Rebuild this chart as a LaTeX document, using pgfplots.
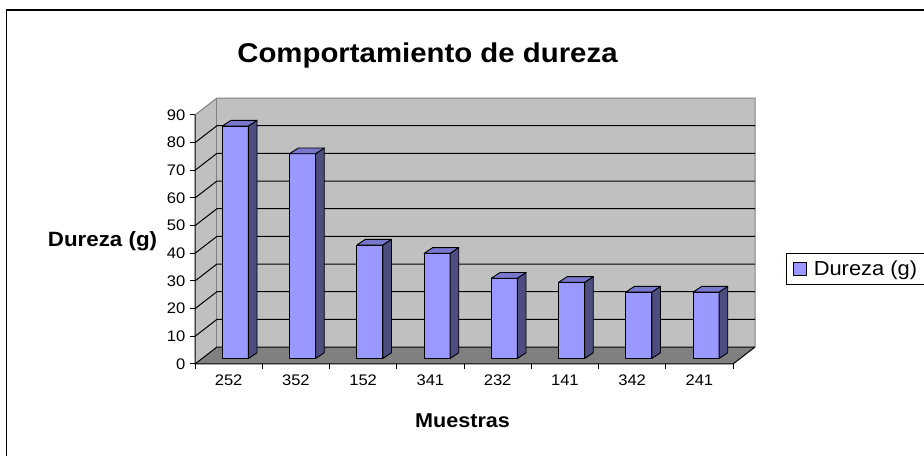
\documentclass[border=0pt]{standalone}
\usepackage{pgfplots}
\pgfplotsset{compat=1.18}
\usepackage{pgfplotstable}
\usepackage{fontspec}
\setmainfont{Liberation Sans}[FakeStretch=1.08]

\definecolor{wallgray}{HTML}{C0C0C0}
\definecolor{floorgray}{HTML}{808080}
\definecolor{barfront}{HTML}{9999FF}
\definecolor{bartop}{HTML}{7777CC}
\definecolor{barside}{HTML}{4D4D80}

\pgfplotstableread{
muestra dureza
252 84
352 74
152 41
341 38
232 29
141 27.5
342 24
241 24
}\datos

% column geometry (pt), vertical unit and the lift of the columns off the front edge
\def\colhw{9.75pt}
\def\colw{19.5pt}
\def\coldx{6.5pt}
\def\coldy{4.3pt}
\def\yunit{2.075pt}
\def\collift{4.15pt}

% the column is drawn entirely by the scatter marker code
\pgfdeclareplotmark{column3d}{}

\begin{document}
\begin{tikzpicture}
\useasboundingbox (0,0) rectangle (693pt,342pt);
\draw[line width=1pt] (4.9pt,0) -- (4.9pt,334.5pt) -- (693pt,334.5pt);
\begin{axis}[
  at={(146.25pt,69pt)}, anchor=south west,
  x=50.4375pt, y=\yunit,
  xmin=-0.5, xmax=7.827, ymin=0, ymax=96.14,
  clip=false,
  axis line style={draw=none},
  tick align=outside, tick pos=left,
  major tick length=3.75pt, minor tick length=3.75pt,
  xtick={0,...,7},
  xticklabels={252,352,152,341,232,141,342,241},
  minor xtick={-0.5,0.5,...,7.5},
  major x tick style={draw=none},
  minor x tick style={draw=black, line width=0.75pt},
  ytick={0,10,...,90},
  y tick style={draw=black, line width=0.75pt},
  /pgf/number format/assume math mode=true,
  tick label style={font=\fontsize{11.5}{13}\selectfont},
  xticklabel style={yshift=-1pt},
  legend style={at={(1.055,0.4173)}, anchor=north west,
    draw=black, line width=0.75pt, fill=white,
    font=\fontsize{15.2}{17}\selectfont,
    inner xsep=5pt, inner ysep=5pt, column sep=4.5pt,
    nodes={inner sep=0.5pt}},
]
% walls and floor of the chart box
\fill[wallgray] (axis cs:-0.5,0) -- (axis cs:-0.5,90) -- (axis cs:-0.173,96.14) -- (axis cs:-0.173,6.14) -- cycle;
\fill[wallgray] (axis cs:-0.173,6.14) rectangle (axis cs:7.827,96.14);
\fill[floorgray] (axis cs:-0.5,0) -- (axis cs:7.5,0) -- (axis cs:7.827,6.14) -- (axis cs:-0.173,6.14) -- cycle;
\draw[floorgray, line width=0.75pt] (axis cs:-0.5,90) -- (axis cs:-0.173,96.14) -- (axis cs:7.827,96.14) -- (axis cs:7.827,6.14);
\draw[floorgray, line width=0.75pt] (axis cs:-0.173,6.14) -- (axis cs:-0.173,96.14);
% grid lines across the side and back walls
\pgfplotsinvokeforeach{0,10,...,80}{
  \draw[black, line width=0.75pt] (axis cs:-0.5,#1) -- ++(axis direction cs:0.327,6.14) -- ++(axis direction cs:8,0);
}
% front axis lines
\draw[black, line width=0.75pt] (axis cs:-0.5,90) -- (axis cs:-0.5,0) -- (axis cs:7.5,0) -- (axis cs:7.827,6.14);

\addplot[scatter, only marks, mark=column3d,
  visualization depends on={rawy \as \colval},
  scatter/@pre marker code/.code={%
    \pgfmathsetlengthmacro\colh{\colval*\yunit}%
    \pgfmathsetlengthmacro\colbot{\collift-\colval*\yunit}%
    \filldraw[fill=barfront, draw=black, line width=0.7pt, line join=round]
      (-\colhw,\colbot) rectangle (\colhw,\collift);
    \filldraw[fill=barside, draw=black, line width=0.7pt, line join=round]
      (\colhw,\collift) -- ++(\coldx,\coldy) -- ++(0pt,-\colh) -- (\colhw,\colbot) -- cycle;
    \filldraw[fill=bartop, draw=black, line width=0.7pt, line join=round]
      (-\colhw,\collift) -- ++(\coldx,\coldy) -- ++(\colw,0pt) -- (\colhw,\collift) -- cycle;
  },
  scatter/@post marker code/.code={},
  legend image code/.code={\draw[fill=barfront, draw=black, line width=0.6pt] (0pt,-5pt) rectangle (10pt,5pt);},
] table[x expr=\coordindex+0.1, y=dureza] {\datos};
\addlegendentry{Dureza (g)}
\end{axis}
\node[anchor=base, font=\fontsize{20.4}{24}\selectfont\bfseries] at (320.6pt,294.75pt) {Comportamiento de dureza};
\node[anchor=base, font=\fontsize{15.5}{18}\selectfont\bfseries] at (76.9pt,156.75pt) {Dureza (g)};
\node[anchor=base, font=\fontsize{15}{18}\selectfont\bfseries] at (346.9pt,21pt) {Muestras};
\end{tikzpicture}
\end{document}
